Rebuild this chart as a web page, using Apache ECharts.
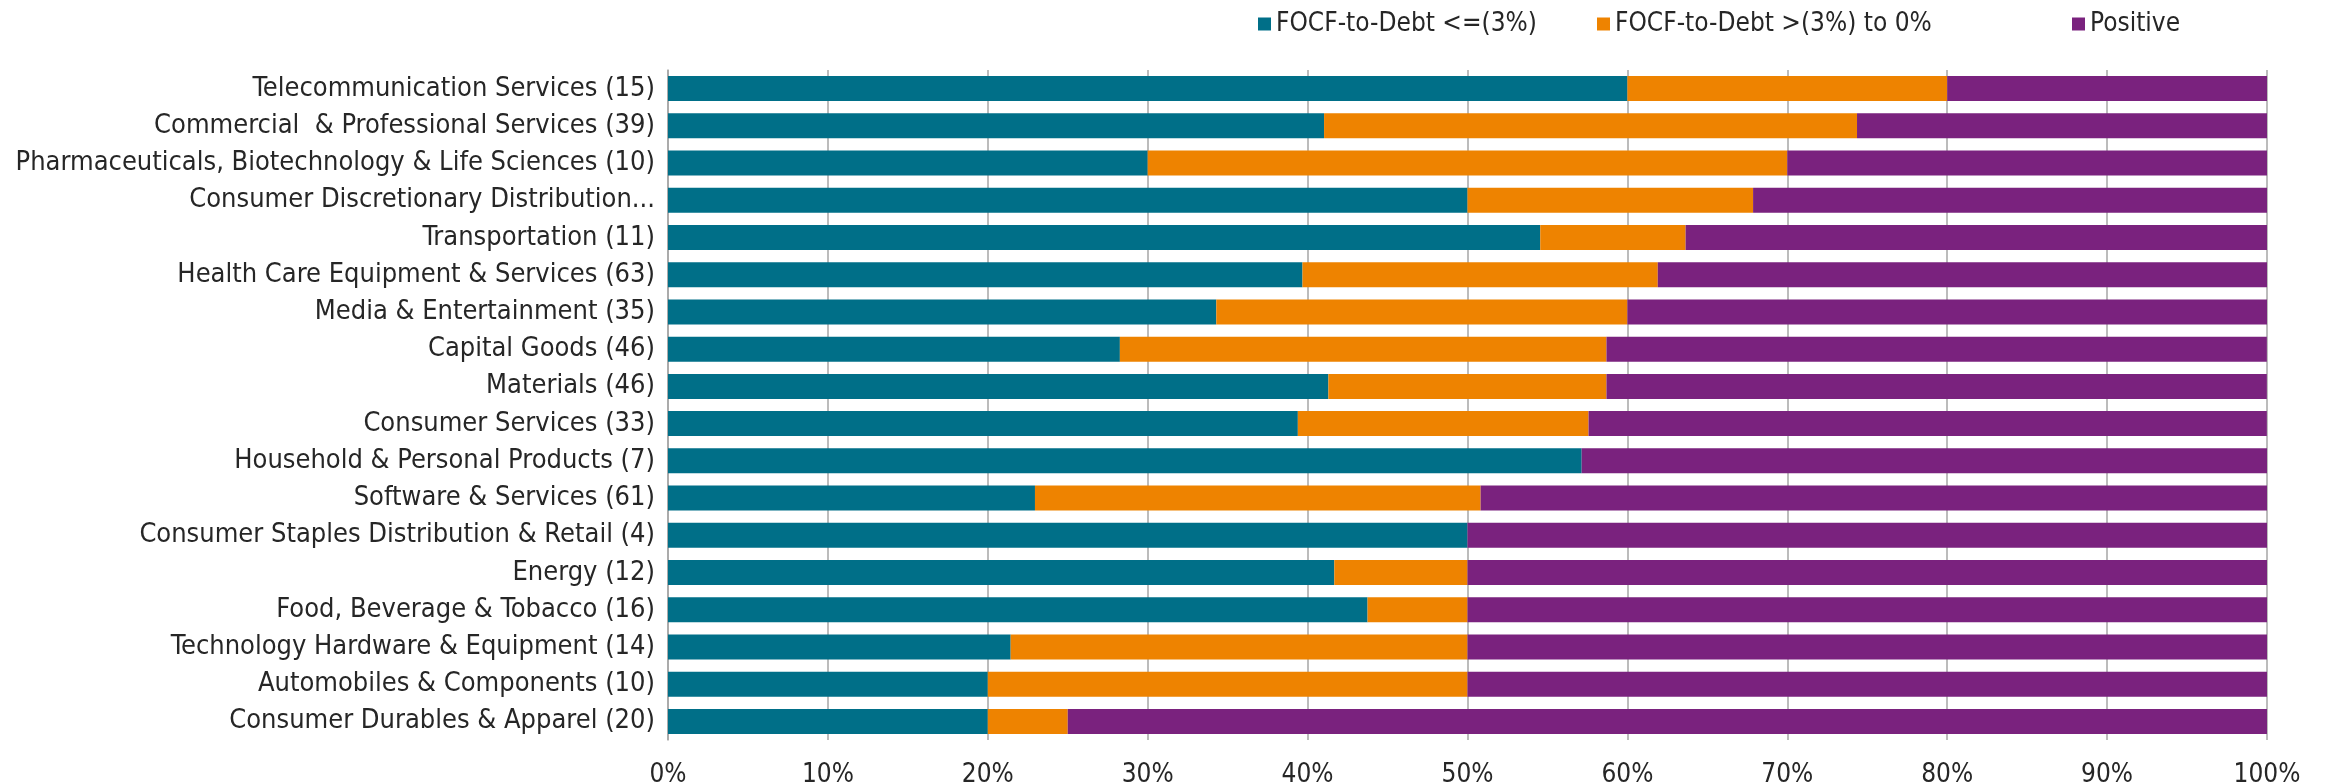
<!DOCTYPE html>
<html>
<head>
<meta charset="utf-8">
<script src="https://cdn.jsdelivr.net/npm/echarts@6/dist/echarts.min.js"></script>
<style>
  html, body { margin: 0; padding: 0; background: #fff; }
  #chart { width: 2330px; height: 783px; }
</style>
</head>
<body>
<div id="chart"></div>
<script>
const sectors = [
  "Telecommunication Services (15)",
  "Commercial  & Professional Services (39)",
  "Pharmaceuticals, Biotechnology & Life Sciences (10)",
  "Consumer Discretionary Distribution...",
  "Transportation (11)",
  "Health Care Equipment & Services (63)",
  "Media & Entertainment (35)",
  "Capital Goods (46)",
  "Materials (46)",
  "Consumer Services (33)",
  "Household & Personal Products (7)",
  "Software & Services (61)",
  "Consumer Staples Distribution & Retail (4)",
  "Energy (12)",
  "Food, Beverage & Tobacco (16)",
  "Technology Hardware & Equipment (14)",
  "Automobiles & Components (10)",
  "Consumer Durables & Apparel (20)"
];

// share of issuers in each bucket, in percent
const weak = [60, 41.03, 30, 50, 54.55, 39.68, 34.29, 28.26, 41.3, 39.39, 57.14, 22.95, 50, 41.67, 43.75, 21.43, 20, 20];
const mid = [20, 33.33, 40, 17.86, 9.09, 22.22, 25.71, 30.43, 17.39, 18.18, 0, 27.87, 0, 8.33, 6.25, 28.57, 30, 5];
const positive = [20, 25.64, 30, 32.14, 36.36, 38.1, 40, 41.3, 41.3, 42.42, 42.86, 49.18, 50, 50, 50, 50, 50, 75];

const names = ["FOCF-to-Debt <=(3%)", "FOCF-to-Debt >(3%) to 0%", "Positive"];
const colors = ["#006F88", "#EE8300", "#7A227E"];

const font = "'Liberation Sans Narrow', 'DejaVu Sans Condensed', sans-serif";

const myChart = echarts.init(document.getElementById("chart"));

function legendAt(i, left) {
  return {
    data: [names[i]],
    left: left,
    top: 6,
    itemWidth: 13,
    itemHeight: 13,
    itemGap: 5,
    icon: "rect",
    textStyle: { fontFamily: font, fontSize: 26, color: "#262626" }
  };
}

var option = {
  animation: false,
  color: colors,
  legend: [legendAt(0, 1253), legendAt(1, 1592), legendAt(2, 2067)],
  grid: { left: 668, right: 63, top: 70, bottom: 43, outerBoundsMode: "none", containLabel: false },
  xAxis: {
    type: "value",
    min: 0,
    max: 100,
    interval: 10,
    axisLine: { show: false },
    axisTick: { show: false },
    splitLine: { lineStyle: { color: "#A6A6A6", width: 1.5 } },
    axisLabel: {
      formatter: "{value}%",
      margin: 22,
      fontFamily: font,
      fontSize: 26,
      color: "#262626"
    }
  },
  yAxis: {
    type: "category",
    inverse: true,
    data: sectors,
    axisLine: { lineStyle: { color: "#A6A6A6", width: 1.5 } },
    axisTick: { length: 8, lineStyle: { color: "#A6A6A6", width: 1.5 } },
    axisLabel: {
      interval: 0,
      margin: 13,
      fontFamily: font,
      fontSize: 27,
      color: "#262626"
    }
  },
  series: [
    { name: names[0], type: "bar", stack: "all", barWidth: 25, data: weak },
    { name: names[1], type: "bar", stack: "all", barWidth: 25, data: mid },
    { name: names[2], type: "bar", stack: "all", barWidth: 25, data: positive }
  ]
};

myChart.setOption(option);
</script>
</body>
</html>
